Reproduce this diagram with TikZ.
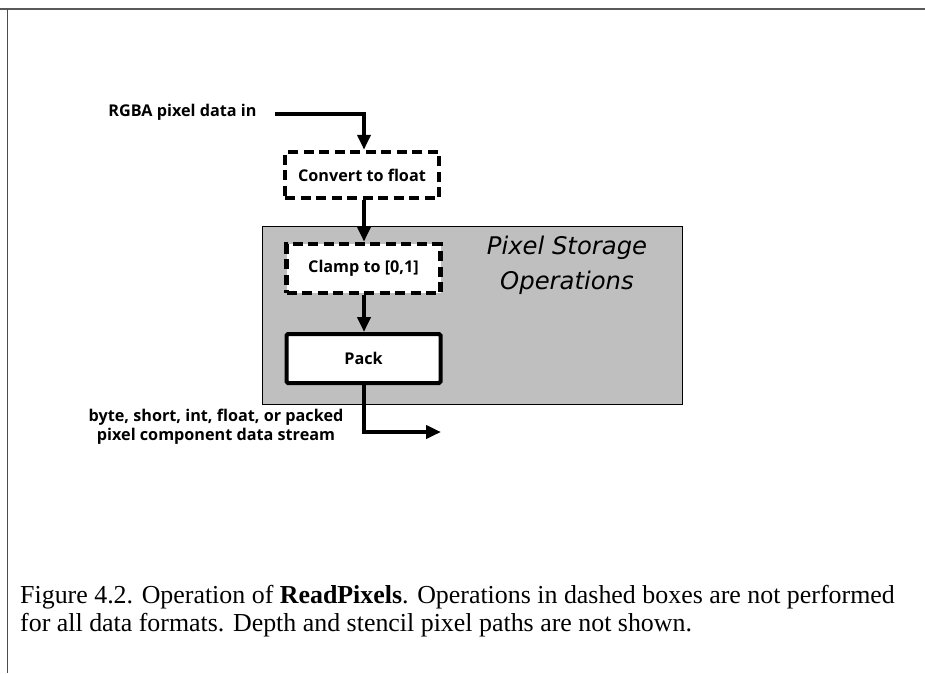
\documentclass[tikz,border=0pt]{standalone}
\usepackage{fontspec}
\setmainfont{Liberation Serif}
\setsansfont{Open Sans}
\newfontfamily\obl{DejaVu Sans}
\usetikzlibrary{arrows.meta}
\begin{document}
\begin{tikzpicture}[x=1pt,y=-1pt,
  lbl/.style={font=\sffamily\bfseries\fontsize{16.2}{19}\selectfont},
  opbox/.style={draw,line width=4.5pt,fill=white,minimum width=154pt,inner sep=0pt,font=\sffamily\bfseries\fontsize{16.2}{19}\selectfont},
  dashbox/.style={opbox,dash pattern=on 10pt off 5.5pt},
  solidbox/.style={opbox,line width=4pt,rounded corners=1.5pt},
  flow/.style={line width=4pt,-{Triangle[length=15pt,width=13pt]}}]
\useasboundingbox (0,0) rectangle (925,673);
\draw[line width=2pt,black!65] (0,8.5) -- (925,8.5);
\draw[line width=1pt,black!70] (7,8.5) -- (7,673);
% gray region
\node[draw,line width=0.8pt,fill=black!25,minimum width=420pt,minimum height=178pt,inner sep=0pt,anchor=north west] (ps) at (262,226) {};
\node[font=\obl\itshape\fontsize{24.3}{35}\selectfont,align=center] (pslbl) at (567,265) {Pixel Storage\\Operations};
% boxes
\node[dashbox,minimum height=46pt] (conv) at (362,175) {Convert to float};
\node[dashbox,minimum height=49pt] (clamp) at (363.5,268.5) {Clamp to [0,1]};
\node[solidbox,minimum height=49pt] (pack) at (363.5,358.5) {Pack};
% labels
\node[lbl,anchor=east] (in) at (260,112) {RGBA pixel data in};
\node[lbl,align=center] (out) at (216,427) {byte, short, int, float, or packed\\pixel component data stream};
\coordinate (inA) at (275,114);
\coordinate (inB) at (364,114);
\coordinate (outB) at (364,432);
\coordinate (outC) at (441,432);
% connectors
\draw[flow] (inA) -- (inB) -- (inB |- conv.north);
\draw[flow] (conv.south -| inB) -- (inB |- clamp.north);
\draw[flow] (clamp.south -| inB) -- (inB |- pack.north);
\draw[flow] (pack.south -| outB) -- (outB) -- (outC);
% caption
\node[anchor=north west,align=left,font=\fontsize{25.9}{28}\selectfont,inner sep=0pt] (cap) at (20,585) {Figure 4.2. Operation of \textbf{ReadPixels}. Operations in dashed boxes are not performed\\for all data formats. Depth and stencil pixel paths are not shown.};
\end{tikzpicture}
\end{document}
